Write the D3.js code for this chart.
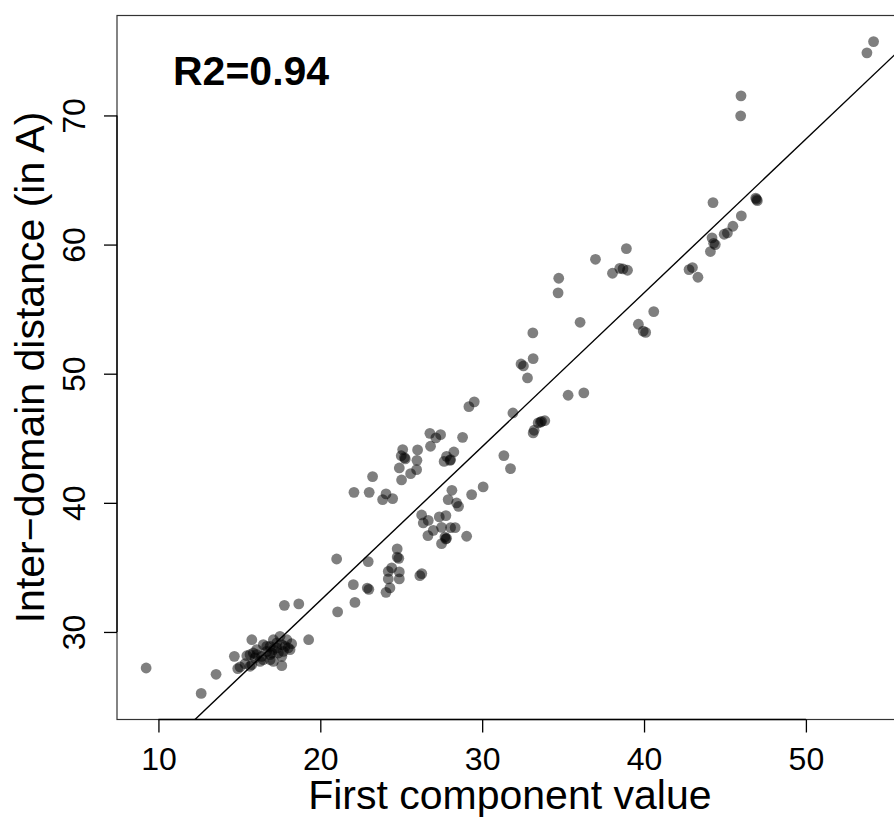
<!DOCTYPE html>
<html><head><meta charset="utf-8">
<script src="https://cdn.jsdelivr.net/npm/d3@7"></script>
<style>body{margin:0;background:#fff}svg{display:block}</style>
</head><body>
<svg id="chart" width="894" height="818"></svg>
<script>
// ---- data ----
const xValues = [
  54.18, 53.77, 45.99, 45.97, 44.26, 46.90, 47.00, 46.95, 46.01, 45.49,
  44.95, 45.15, 44.20, 44.30, 44.40, 44.10, 42.99, 42.78, 43.33, 38.91,
  37.00, 38.50, 38.70, 38.98, 38.05, 34.73, 34.69, 40.60, 39.65, 39.95,
  40.10, 36.05, 33.13, 33.15, 32.40, 32.55, 32.80, 35.31, 36.28, 29.51,
  29.18, 31.90, 33.67, 33.87, 33.46, 33.15, 33.21, 33.60, 26.77, 27.43,
  27.14, 28.79, 26.81, 26.01, 25.09, 25.00, 25.20, 25.25, 27.80, 28.25,
  27.65, 28.01, 28.05, 25.97, 31.34, 31.75, 24.88, 25.95, 25.58, 23.23,
  25.02, 22.08, 23.02, 24.06, 23.85, 24.47, 28.13, 30.06, 29.35, 27.90,
  28.42, 28.54, 26.26, 26.67, 26.36, 27.35, 27.76, 27.49, 26.98, 28.05,
  28.33, 26.65, 27.70, 27.80, 27.75, 27.49, 29.04, 24.75, 24.75, 24.85,
  21.01, 22.96, 24.41, 24.20, 24.88, 24.20, 24.88, 26.15, 26.27, 22.04,
  22.90, 23.00, 24.30, 24.06, 22.14, 21.07, 18.67, 17.78, 19.28, 15.77,
   9.24, 13.56, 12.64, 14.69, 14.90, 15.04, 15.46, 15.66, 17.62, 17.10,
  16.48, 16.07, 16.38, 16.69, 16.90, 17.31, 17.51, 17.93, 18.23, 17.72,
  18.02, 17.10, 16.28, 15.77, 16.48, 16.90, 17.41, 17.82, 18.13, 17.62,
  16.69, 17.10, 16.07, 15.86, 17.31, 17.62, 16.90, 15.97, 17.00, 15.35,
  15.66
];
const yValues = [
  75.72, 74.85, 71.52, 69.97, 63.25, 63.60, 63.40, 63.50, 62.22, 61.42,
  60.80, 60.90, 60.52, 60.10, 60.00, 59.46, 58.22, 58.06, 57.47, 59.69,
  58.86, 58.16, 58.12, 58.01, 57.78, 57.39, 56.26, 54.81, 53.83, 53.30,
  53.20, 53.98, 53.16, 51.17, 50.75, 50.60, 49.67, 48.33, 48.51, 47.82,
  47.45, 46.96, 46.31, 46.36, 46.19, 45.41, 45.62, 46.25, 45.38, 45.28,
  45.03, 45.07, 44.38, 44.10, 44.12, 43.65, 43.50, 43.40, 43.60, 43.94,
  43.21, 43.29, 43.35, 43.29, 43.66, 42.65, 42.70, 42.57, 42.26, 42.03,
  41.77, 40.81, 40.81, 40.69, 40.25, 40.33, 40.97, 41.23, 40.64, 40.25,
  39.99, 39.73, 39.06, 38.64, 38.44, 38.91, 39.01, 38.10, 37.87, 38.08,
  38.08, 37.46, 37.35, 37.25, 37.20, 36.84, 37.41, 36.43, 35.80, 35.70,
  35.65, 35.45, 34.96, 34.69, 34.65, 34.11, 34.11, 34.36, 34.52, 33.66,
  33.40, 33.30, 33.41, 33.07, 32.29, 31.55, 32.17, 32.06, 29.40, 29.40,
  27.21, 26.72, 25.24, 28.11, 27.16, 27.29, 28.16, 28.24, 27.39, 27.72,
  29.02, 28.63, 28.11, 28.50, 28.24, 28.76, 29.66, 29.40, 29.09, 28.50,
  28.76, 29.40, 27.72, 27.47, 27.85, 27.85, 28.37, 28.88, 28.63, 28.11,
  28.88, 28.63, 28.24, 28.37, 29.15, 29.02, 28.88, 27.99, 28.37, 27.54,
  27.34
];
const xTicks = [10, 20, 30, 40, 50];
const yTicks = [30, 40, 50, 60, 70];
const fitCoef = [8.62, 1.191];          // intercept, slope of the fitted line
const xLabel = "First component value";
const yLabel = "Inter\u2212domain distance (in A)";
const annotation = "R2=0.94";

// ---- layout ----
const W = 894, H = 818;
const plot = {left: 117, right: 902.7, top: 15.5, bottom: 719.5};
const FONT = "'Liberation Sans', Arial, Helvetica, sans-serif";

const x = d3.scaleLinear().domain([7.44, 55.98]).range([plot.left, plot.right]);
const y = d3.scaleLinear().domain([23.22, 77.74]).range([plot.bottom, plot.top]);

const svg = d3.select("#chart");
svg.append("rect").attr("width", W).attr("height", H).attr("fill", "#fff");

svg.append("clipPath").attr("id", "clip")
  .append("rect")
  .attr("x", plot.left).attr("y", plot.top)
  .attr("width", plot.right - plot.left).attr("height", plot.bottom - plot.top);

// points
const pts = xValues.map((v, i) => ({x: v, y: yValues[i]}));
svg.append("g").attr("clip-path", "url(#clip)")
  .selectAll("circle").data(pts).join("circle")
  .attr("cx", d => x(d.x)).attr("cy", d => y(d.y))
  .attr("r", 5.4)
  .attr("fill", "#000").attr("fill-opacity", 0.5);

// fitted line
const xd = x.domain();
const linePts = xd.map(v => [v, fitCoef[0] + fitCoef[1] * v]);
svg.append("path").attr("clip-path", "url(#clip)")
  .attr("d", d3.line().x(d => x(d[0])).y(d => y(d[1]))(linePts))
  .attr("fill", "none").attr("stroke", "#000").attr("stroke-width", 1.4);

// box
svg.append("rect")
  .attr("x", plot.left).attr("y", plot.top)
  .attr("width", plot.right - plot.left).attr("height", plot.bottom - plot.top)
  .attr("fill", "none").attr("stroke", "#333").attr("stroke-width", 1.2);

// x axis
const gx = svg.append("g").attr("transform", `translate(0,${plot.bottom})`)
  .call(d3.axisBottom(x).tickValues(xTicks).tickSize(13).tickFormat(d3.format("d")));
gx.select(".domain").remove();
svg.append("line")
  .attr("x1", x(xTicks[0])).attr("x2", x(xTicks[xTicks.length - 1]))
  .attr("y1", plot.bottom).attr("y2", plot.bottom)
  .attr("stroke", "#000").attr("stroke-width", 1.3);
gx.selectAll(".tick line").attr("stroke", "#000").attr("stroke-width", 1.3);
gx.selectAll(".tick text")
  .attr("y", 50).attr("dy", null)
  .attr("font-family", FONT).attr("font-size", 32).attr("fill", "#000");

// y axis
const gy = svg.append("g").attr("transform", `translate(${plot.left},0)`)
  .call(d3.axisLeft(y).tickValues(yTicks).tickSize(13).tickFormat(d3.format("d")));
gy.select(".domain").remove();
svg.append("line")
  .attr("x1", plot.left).attr("x2", plot.left)
  .attr("y1", y(yTicks[0])).attr("y2", y(yTicks[yTicks.length - 1]))
  .attr("stroke", "#000").attr("stroke-width", 1.3);
gy.selectAll(".tick line").attr("stroke", "#000").attr("stroke-width", 1.3);
gy.selectAll(".tick text")
  .attr("transform", "rotate(-90)")
  .attr("x", 0).attr("y", -32).attr("dy", null)
  .attr("text-anchor", "middle")
  .attr("font-family", FONT).attr("font-size", 32).attr("fill", "#000");

// axis titles
svg.append("text")
  .attr("x", (plot.left + plot.right) / 2).attr("y", 809)
  .attr("text-anchor", "middle")
  .attr("font-family", FONT).attr("font-size", 41).attr("fill", "#000")
  .text(xLabel);
svg.append("text")
  .attr("transform", `translate(44,${(plot.top + plot.bottom) / 2}) rotate(-90)`)
  .attr("text-anchor", "middle")
  .attr("font-family", FONT).attr("font-size", 41).attr("fill", "#000")
  .text(yLabel);

// annotation
svg.append("text")
  .attr("x", 173).attr("y", 85)
  .attr("font-family", FONT).attr("font-size", 41).attr("font-weight", "bold")
  .attr("fill", "#000")
  .text(annotation);
</script>
</body></html>
